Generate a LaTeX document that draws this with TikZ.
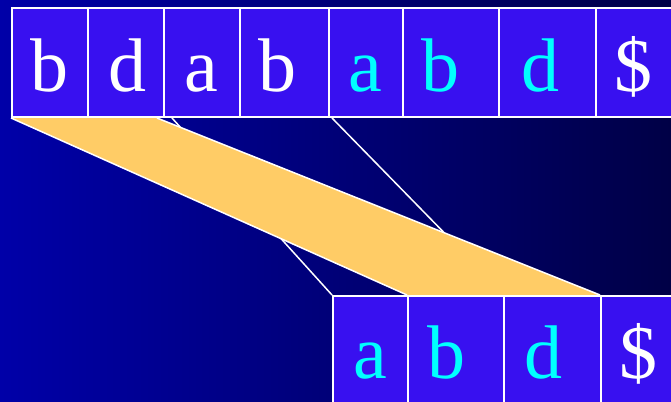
\documentclass[tikz,border=0pt]{standalone}
\usepackage{fontspec}
\setmainfont{Liberation Serif}
\definecolor{bgleft}{RGB}{0,0,168}
\definecolor{bgright}{RGB}{0,0,70}
\definecolor{cellblue}{RGB}{56,16,240}
\definecolor{bandorange}{RGB}{255,204,102}
\definecolor{hicyan}{RGB}{0,255,255}

\begin{document}
\begin{tikzpicture}[x=1pt,y=-1pt,
  cell/.style={draw=white,line width=2pt,fill=cellblue,inner sep=0pt},
  glyph/.style={anchor=base,inner sep=0pt,font=\fontsize{76}{80}\selectfont},
  link/.style={draw=white,line width=1.5pt}]
\useasboundingbox (0,0) rectangle (671,401);
\clip (0,0) rectangle (671,401);
\shade[left color=bgleft,right color=bgright] (0,0) rectangle (671,401);

% text row
\foreach \l/\r/\c/\t/\x [count=\i from 0] in
  {12/88/white/b/49.5, 88/164/white/d/127.5, 164/240/white/a/201,
   240/329/white/b/277, 329/403/hicyan/a/365, 403/499/hicyan/b/440,
   499/596/hicyan/d/540, 596/690/white/\$/633}
  \node[cell,minimum width=\r-\l,minimum height=109] (t\i) at ({(\l+\r)/2},62.5) {};

% suffix row
\foreach \l/\r [count=\i from 0] in {333/408, 408/504, 504/601, 601/700}
  \node[cell,minimum width=\r-\l,minimum height=114] (s\i) at ({(\l+\r)/2},353) {};

\coordinate (p1) at (172,118);
\coordinate (p2) at (332,118);
\coordinate (q1) at (157,118);

% links behind the band
\draw[link] (p1) -- (s0.north west);
\draw[link] (p2) -- (s1.north east);

% band
\fill[bandorange] (t0.south west) -- (q1) -- (s3.north west) -- (s1.north west) -- cycle;
\draw[link] (t0.south west) -- (s1.north west);
\draw[link] (q1) -- (s3.north west);

% redraw the rows over the band edges
\foreach \l/\r [count=\i from 0] in
  {12/88, 88/164, 164/240, 240/329, 329/403, 403/499, 499/596, 596/690}
  \node[cell,minimum width=\r-\l,minimum height=109] at ({(\l+\r)/2},62.5) {};
\foreach \l/\r [count=\i from 0] in {333/408, 408/504, 504/601, 601/700}
  \node[cell,minimum width=\r-\l,minimum height=114] at ({(\l+\r)/2},353) {};

% letters
\foreach \c/\t/\x [count=\i from 0] in
  {white/b/49.5, white/d/127.5, white/a/201, white/b/277,
   hicyan/a/365, hicyan/b/440, hicyan/d/540, white/\$/633}
  \node[glyph,text=\c] (lt\i) at (\x,92) {\t};
\foreach \c/\t/\x [count=\i from 0] in
  {hicyan/a/370, hicyan/b/446, hicyan/d/543, white/\$/638}
  \node[glyph,text=\c] (ls\i) at (\x,378) {\t};
\end{tikzpicture}
\end{document}
